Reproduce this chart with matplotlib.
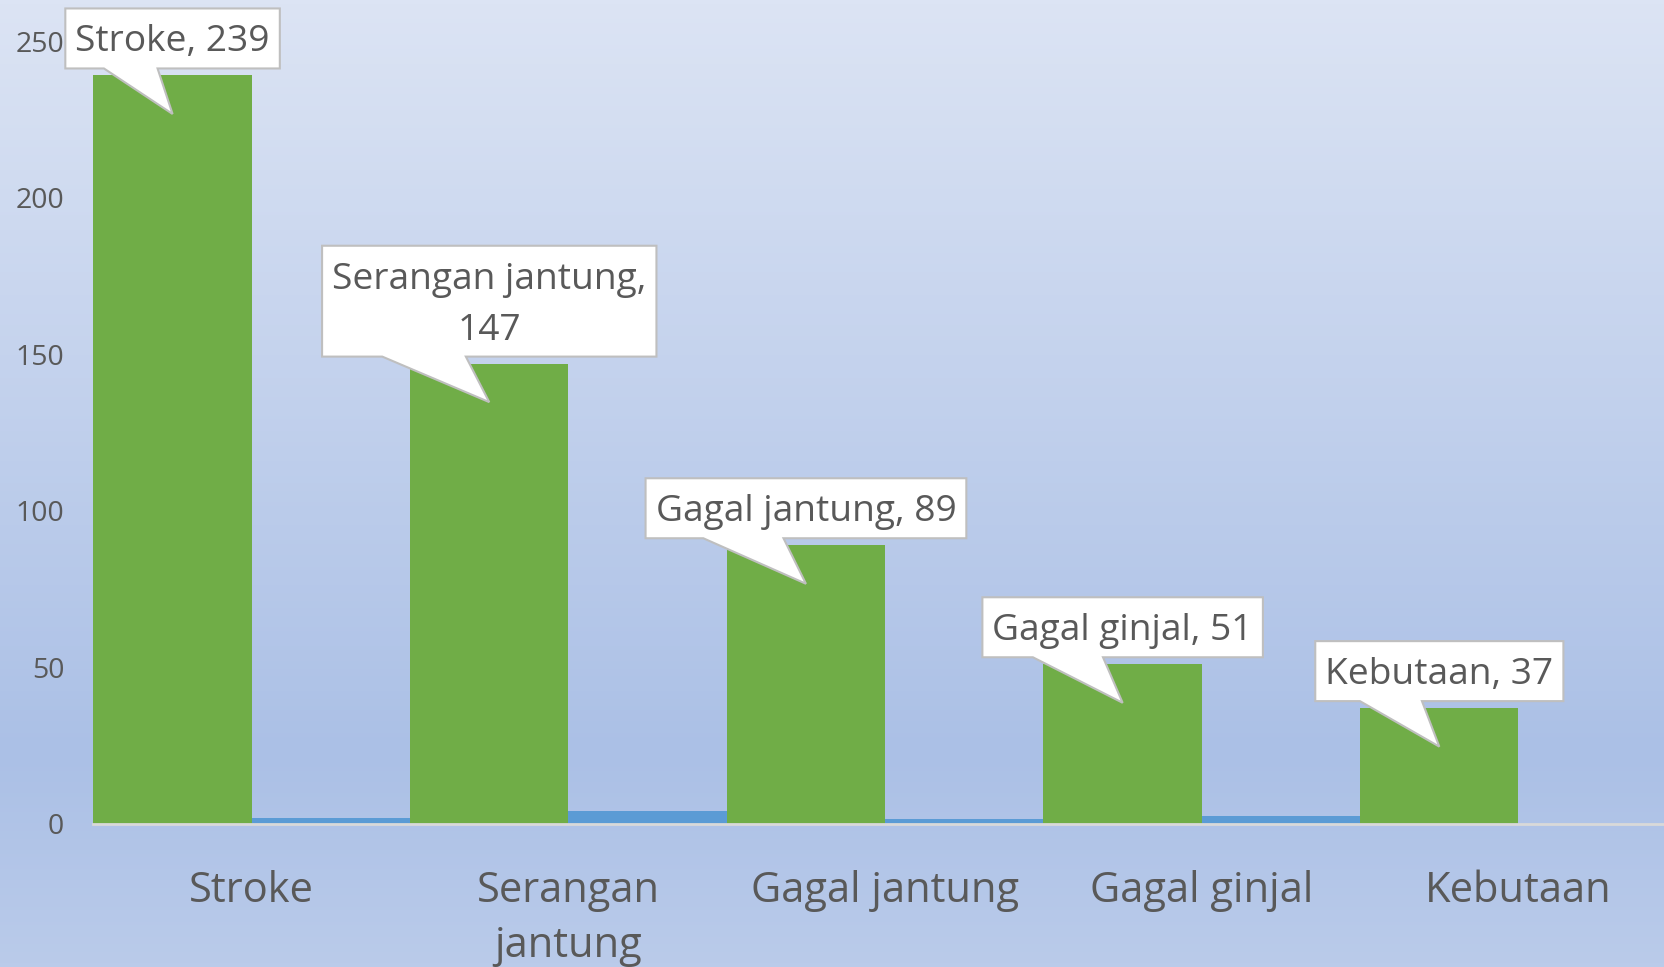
import numpy as np
import matplotlib.pyplot as plt
from matplotlib.colors import LinearSegmentedColormap
from matplotlib.patches import Polygon

# data
categories = ["Stroke", "Serangan\njantung", "Gagal jantung", "Gagal ginjal", "Kebutaan"]
callouts = ["Stroke, 239", "Serangan jantung,\n147", "Gagal jantung, 89", "Gagal ginjal, 51", "Kebutaan, 37"]
series1 = [239, 147, 89, 51, 37]
series2 = [2.0, 4.0, 1.5, 2.5, 0.0]
yticks = [0, 50, 100, 150, 200, 250]

plt.rcParams['font.family'] = ['Open Sans', 'DejaVu Sans']

W, H = 1665, 967
fig = plt.figure(figsize=(W / 100, H / 100), dpi=100)

# background gradient
bg = fig.add_axes([0, 0, 1, 1], zorder=-10)
cmap = LinearSegmentedColormap.from_list(
    "bg", [(0, "#dce4f4"), (0.78, "#abc0e6"), (1.0, "#bacbea")])
bg.imshow(np.linspace(0, 1, 256).reshape(-1, 1), aspect="auto", cmap=cmap,
          extent=[0, 1, 0, 1])
bg.axis("off")

left, right = 93.4 / W, 1.0
bottom, top = 1 - 824 / H, 1 - 41 / H
ax = fig.add_axes([left, bottom, right - left, top - bottom])
ax.patch.set_alpha(0)

x = np.arange(len(categories))
ax.bar(x - 0.25, series1, width=0.5, color="#70ad47", zorder=2)
ax.bar(x + 0.25, series2, width=0.5, color="#5b9bd5", zorder=2)

ax.set_xlim(-0.5, 4.4626)
ax.set_ylim(0, 250)
ax.set_yticks(yticks)
ax.set_xticks(x)
ax.set_xticklabels(categories, fontsize=30, color="#595959", linespacing=1.4)
ax.tick_params(axis="x", length=0, pad=33)
ax.tick_params(axis="y", length=0, pad=21, labelsize=20.5, labelcolor="#595959")
for s in ["top", "right", "left"]:
    ax.spines[s].set_visible(False)
ax.spines["bottom"].set_color("#d9d9d9")
ax.spines["bottom"].set_linewidth(2)
ax.spines["bottom"].set_zorder(3)

# callouts
fig.canvas.draw()
r = fig.canvas.get_renderer()
for i, (txt, v) in enumerate(zip(callouts, series1)):
    cx, ytop = ax.transData.transform((x[i] - 0.25, v))
    tipx, tipy = ax.transData.transform((x[i] - 0.25, v - 12.3))
    t = fig.text(0, 0, txt, fontsize=26.7, color="#595959", ha="center",
                 va="center", linespacing=1.55, zorder=6)
    ext = t.get_window_extent(r)
    bw = ext.width + 20
    bh = ext.height + 24
    b0 = ytop + 7
    l0 = cx - bw / 2
    t.set_position((cx / W, (b0 + bh / 2 - 4) / H))
    pts = [(l0, b0), (l0 + 0.18 * bw, b0), (tipx, tipy), (l0 + 0.43 * bw, b0),
           (l0 + bw, b0), (l0 + bw, b0 + bh), (l0, b0 + bh)]
    pts = [(px / W, py / H) for px, py in pts]
    fig.patches.append(Polygon(pts, closed=True, facecolor="white",
                               edgecolor="#bfbfbf", linewidth=1.5,
                               transform=fig.transFigure, zorder=5))

fig.savefig("out.png", dpi=100)
